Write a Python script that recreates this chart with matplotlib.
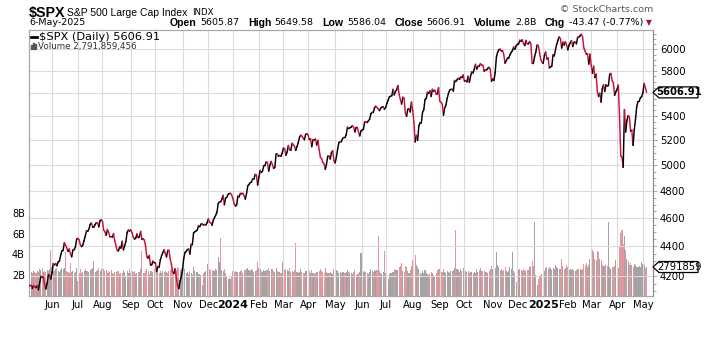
import numpy as np
import pandas as pd
import matplotlib
matplotlib.use('Agg')
import matplotlib.pyplot as plt
from matplotlib.collections import LineCollection
from matplotlib.patches import Polygon, Rectangle
from matplotlib.transforms import IdentityTransform
from matplotlib.ticker import NullFormatter

# market holidays inside the window (used only to build the trading-day index)
holidays = ['2023-05-29', '2023-06-19', '2023-07-04', '2023-09-04', '2023-11-23',
            '2023-12-25', '2024-01-01', '2024-01-15', '2024-02-19', '2024-03-29',
            '2024-05-27', '2024-06-19', '2024-07-04', '2024-09-02', '2024-11-28',
            '2024-12-25', '2025-01-01', '2025-01-09', '2025-01-20', '2025-02-17',
            '2025-04-18']

# $SPX daily closes, 5-May-2023 .. 6-May-2025
close = [
    4136.25, 4138.12, 4119.17, 4137.64, 4130.62, 4124.08, 4136.28, 4109.90, 4158.77, 4198.05, 4191.98, 4192.63, 4145.58, 4115.24, 4151.28, 4205.45, 4205.52, 4179.83,
    4221.02, 4282.37, 4273.79, 4283.85, 4267.52, 4293.93, 4298.86, 4338.93, 4369.01, 4372.59, 4425.84, 4409.59, 4388.71, 4365.69, 4381.89, 4348.33, 4328.82, 4378.41, 4376.86, 4396.44, 4450.38,
    4455.59, 4446.82, 4411.59, 4398.95, 4409.53, 4439.26, 4472.16, 4510.04, 4505.42, 4522.79, 4554.98, 4565.72, 4534.87, 4536.34, 4554.64, 4567.46, 4566.75, 4537.41, 4582.23, 4588.96,
    4576.73, 4513.39, 4501.89, 4478.03, 4518.44, 4499.38, 4467.71, 4468.83, 4464.05, 4489.72, 4437.86, 4404.33, 4370.36, 4369.71, 4399.77, 4387.55, 4436.01, 4376.31, 4405.71, 4433.31, 4497.63, 4514.87, 4507.66,
    4515.77, 4496.83, 4465.48, 4451.14, 4457.49, 4487.46, 4461.90, 4467.44, 4505.10, 4450.32, 4453.53, 4443.95, 4402.20, 4330.00, 4320.06, 4337.44, 4273.53, 4274.51, 4299.70, 4288.05,
    4288.39, 4229.45, 4263.75, 4258.19, 4308.50, 4335.66, 4358.24, 4376.95, 4349.61, 4327.78, 4373.63, 4373.20, 4314.60, 4278.00, 4224.16, 4217.04, 4247.68, 4186.77, 4137.23, 4117.37, 4166.82, 4193.80,
    4237.86, 4317.78, 4358.34, 4365.98, 4378.38, 4382.78, 4347.35, 4415.24, 4411.55, 4495.70, 4502.88, 4508.24, 4514.02, 4547.38, 4538.19, 4556.62, 4559.34, 4550.43, 4554.89, 4550.58, 4567.80,
    4594.63, 4569.78, 4567.18, 4549.34, 4585.59, 4604.37, 4622.44, 4643.70, 4707.09, 4719.55, 4719.19, 4740.56, 4768.37, 4698.35, 4746.75, 4754.63, 4774.75, 4781.58, 4783.35, 4769.83,
    4742.83, 4704.81, 4688.68, 4697.24, 4763.54, 4756.50, 4783.45, 4780.24, 4783.83, 4765.98, 4739.21, 4780.94, 4839.81, 4850.43, 4864.60, 4868.55, 4894.16, 4890.97, 4927.93, 4924.97, 4845.65,
    4906.19, 4958.61, 4942.81, 4954.23, 4995.06, 4997.91, 5026.61, 5021.84, 4953.17, 5000.62, 5029.73, 5005.57, 4975.51, 4981.80, 5087.03, 5088.80, 5069.53, 5078.18, 5069.76, 5096.27,
    5137.08, 5130.95, 5078.65, 5104.76, 5157.36, 5123.69, 5117.94, 5175.27, 5165.31, 5150.48, 5117.09, 5149.42, 5178.51, 5224.62, 5241.53, 5234.18, 5218.19, 5203.58, 5248.49, 5254.35,
    5243.77, 5205.81, 5211.49, 5147.21, 5204.34, 5202.39, 5209.91, 5160.64, 5199.06, 5123.41, 5061.82, 5051.41, 5022.21, 5011.12, 4967.23, 5010.60, 5070.55, 5071.63, 5048.42, 5099.96, 5116.17, 5035.69,
    5018.39, 5064.20, 5127.79, 5180.74, 5187.70, 5187.67, 5214.08, 5222.68, 5221.42, 5246.68, 5308.15, 5297.10, 5303.27, 5308.13, 5321.41, 5307.01, 5267.84, 5304.72, 5306.04, 5266.95, 5235.48, 5277.51,
    5283.40, 5291.34, 5354.03, 5352.96, 5346.99, 5360.79, 5375.32, 5421.03, 5433.74, 5431.60, 5473.23, 5487.03, 5473.17, 5464.62, 5447.87, 5469.30, 5477.90, 5482.87, 5460.48,
    5475.09, 5509.01, 5537.02, 5567.19, 5572.85, 5576.98, 5633.91, 5584.54, 5615.35, 5631.22, 5667.20, 5588.27, 5544.59, 5505.00, 5564.41, 5555.74, 5427.13, 5399.22, 5459.10, 5463.54, 5436.44, 5522.30,
    5446.68, 5346.56, 5186.33, 5240.03, 5199.50, 5319.31, 5344.16, 5344.39, 5434.43, 5455.21, 5543.22, 5554.25, 5608.25, 5597.12, 5620.85, 5570.64, 5634.61, 5616.84, 5625.80, 5592.18, 5591.96, 5648.40,
    5528.93, 5520.07, 5503.41, 5408.42, 5471.05, 5495.52, 5554.13, 5595.76, 5626.02, 5633.09, 5634.58, 5618.26, 5713.64, 5702.55, 5718.57, 5732.93, 5722.26, 5745.37, 5738.17, 5762.48,
    5708.75, 5709.54, 5699.94, 5751.07, 5695.94, 5751.13, 5792.04, 5780.05, 5815.03, 5859.85, 5815.26, 5842.47, 5841.47, 5864.67, 5853.98, 5851.20, 5797.42, 5809.86, 5808.12, 5823.52, 5832.92, 5813.67, 5705.45,
    5728.80, 5712.69, 5782.76, 5929.04, 5973.10, 5995.54, 6001.35, 5983.99, 5985.38, 5949.17, 5870.62, 5893.62, 5916.98, 5917.11, 5948.71, 5969.34, 5987.37, 6021.63, 5998.74, 6032.38,
    6047.15, 6049.88, 6086.49, 6075.11, 6090.27, 6052.85, 6034.91, 6084.19, 6051.25, 6051.09, 6074.08, 6050.61, 5872.16, 5867.08, 5930.85, 5974.07, 6040.04, 6037.59, 5970.84, 5906.94, 5881.63,
    5868.55, 5942.47, 5975.38, 5909.03, 5918.25, 5827.04, 5836.22, 5842.91, 5949.91, 5937.34, 5996.66, 6049.24, 6086.37, 6118.71, 6101.24, 6012.28, 6067.70, 6039.31, 6071.17, 6040.53,
    5994.57, 6037.88, 6061.48, 6083.57, 6025.99, 6066.44, 6068.50, 6051.97, 6115.07, 6114.63, 6129.58, 6144.15, 6117.52, 6013.13, 5983.25, 5955.25, 5956.06, 5861.57, 5954.50,
    5849.72, 5778.15, 5842.63, 5738.52, 5770.20, 5614.56, 5572.07, 5599.30, 5521.52, 5638.94, 5675.12, 5614.66, 5675.29, 5662.89, 5667.56, 5767.57, 5776.65, 5712.20, 5693.31, 5580.94, 5611.85,
    5633.07, 5670.97, 5396.52, 5074.08, 5062.25, 4982.77, 5456.90, 5268.05, 5363.36, 5405.97, 5396.63, 5275.70, 5282.70, 5158.20, 5287.76, 5375.86, 5484.77, 5525.21, 5528.75, 5560.83, 5569.06,
    5604.14, 5686.67, 5650.38, 5606.91,
]

# daily volume, billions of shares
volume = [
    2.6, 2.3, 2.2, 2.4, 2.3, 2.2, 2.4, 2.3, 2.6, 2.5, 2.7, 2.3, 2.4, 2.3, 2.5, 2.4, 2.6, 4.4,
    2.8, 2.5, 2.4, 2.6, 2.7, 2.4, 2.3, 2.5, 2.7, 2.6, 2.7, 4.2, 2.4, 2.3, 2.2, 3.2, 2.3, 2.4, 2.2, 2.3, 2.7,
    1.4, 2.2, 2.6, 2.2, 2.3, 2.4, 2.6, 2.4, 2.4, 2.3, 2.5, 2.6, 2.7, 3.4, 2.3, 2.4, 2.5, 2.7, 2.4, 2.6,
    2.4, 2.6, 2.4, 2.5, 2.2, 2.4, 2.3, 2.5, 2.2, 2.1, 2.3, 2.3, 2.4, 2.4, 2.1, 2.2, 2.2, 2.5, 2.3, 1.9, 2.4, 2.2, 2.6,
    2.2, 2.4, 2.3, 2.4, 2.1, 2.2, 2.3, 2.3, 2.6, 4.3, 2.2, 2.2, 2.4, 2.6, 2.4, 2.1, 2.4, 2.4, 2.3, 2.6,
    2.3, 2.5, 2.3, 2.2, 2.4, 2.2, 2.4, 2.3, 2.4, 2.3, 2.2, 2.4, 2.5, 2.6, 2.6, 2.4, 2.5, 2.5, 2.8, 2.7, 2.5, 2.7,
    2.7, 2.8, 2.6, 2.2, 2.3, 2.1, 2.4, 2.2, 2.0, 2.8, 2.4, 2.3, 2.3, 2.1, 2.1, 2.0, 1.1, 2.2, 2.3, 2.4, 3.1,
    3.5, 2.6, 2.5, 2.5, 2.4, 2.4, 2.6, 2.5, 3.8, 3.3, 5.6, 2.5, 2.4, 2.6, 2.2, 1.8, 1.6, 1.7, 1.6, 1.8,
    2.4, 2.3, 2.4, 2.3, 2.3, 2.3, 2.4, 2.5, 2.2, 2.5, 2.5, 2.6, 2.7, 2.5, 2.4, 2.6, 2.5, 2.3, 2.4, 2.5, 3.3,
    2.7, 2.6, 2.4, 2.3, 2.5, 2.4, 2.5, 2.5, 2.7, 2.4, 2.6, 2.6, 2.4, 2.3, 2.7, 2.4, 2.3, 2.3, 2.2, 3.3,
    2.6, 2.5, 2.6, 2.5, 2.4, 2.7, 2.3, 2.4, 2.3, 2.5, 5.1, 2.3, 2.2, 2.3, 2.6, 2.3, 2.2, 2.2, 2.4, 2.4,
    2.3, 2.4, 2.2, 2.5, 2.2, 2.1, 2.2, 2.3, 2.3, 2.4, 2.6, 2.4, 2.3, 2.2, 2.7, 2.3, 2.2, 2.2, 2.3, 2.2, 2.1, 2.6,
    2.6, 2.5, 2.4, 2.2, 2.3, 2.2, 2.3, 2.3, 2.2, 2.3, 2.5, 2.3, 2.2, 2.2, 2.1, 2.3, 2.5, 2.0, 2.1, 2.2, 2.3, 4.1,
    2.5, 2.3, 2.4, 2.3, 2.2, 2.1, 2.3, 2.6, 2.4, 2.3, 2.5, 2.4, 2.5, 5.8, 2.4, 2.2, 2.1, 2.3, 4.3,
    2.2, 2.1, 1.6, 2.1, 2.2, 2.2, 2.3, 2.6, 2.5, 2.5, 2.5, 2.8, 2.9, 3.2, 2.4, 2.3, 2.9, 2.8, 2.4, 2.2, 2.5, 2.9,
    3.5, 3.7, 3.9, 3.0, 2.8, 2.6, 2.2, 2.1, 2.4, 2.2, 2.5, 2.2, 2.1, 2.0, 2.1, 2.3, 2.2, 2.0, 1.9, 2.2, 2.5, 2.6,
    2.6, 2.3, 2.3, 2.6, 2.3, 2.2, 2.4, 2.3, 2.2, 2.4, 2.4, 2.5, 2.7, 6.4, 2.6, 2.5, 2.3, 2.6, 2.4, 2.7,
    2.6, 2.4, 2.3, 2.4, 2.2, 2.3, 2.3, 2.2, 2.3, 2.2, 2.6, 2.3, 2.5, 2.7, 2.4, 2.4, 2.4, 2.3, 2.3, 2.2, 2.4, 2.6, 2.9,
    2.6, 2.4, 2.7, 4.2, 3.0, 2.8, 2.5, 2.6, 2.4, 2.5, 2.8, 2.4, 2.3, 2.4, 2.8, 2.6, 4.2, 2.4, 2.2, 1.3,
    2.6, 2.5, 2.6, 2.5, 2.4, 2.6, 2.5, 2.4, 2.5, 2.5, 2.8, 2.9, 3.4, 2.9, 7.1, 2.0, 1.1, 1.6, 1.8, 2.0, 2.1,
    2.5, 2.4, 2.7, 2.8, 2.6, 2.8, 2.7, 2.5, 2.7, 2.6, 3.0, 2.8, 2.7, 2.6, 2.6, 3.6, 2.9, 2.6, 2.7, 3.0,
    2.8, 2.5, 2.6, 2.5, 2.6, 2.5, 2.4, 2.5, 2.6, 2.6, 2.6, 2.5, 2.6, 3.1, 3.0, 3.2, 2.8, 3.0, 3.6,
    3.8, 4.4, 4.2, 3.6, 3.5, 4.3, 4.2, 3.6, 3.5, 3.0, 2.9, 2.9, 3.0, 2.9, 7.1, 2.8, 2.6, 2.8, 2.8, 2.9, 3.5,
    2.9, 2.7, 4.8, 6.1, 6.4, 5.0, 5.8, 4.4, 3.6, 3.4, 3.0, 3.2, 3.0, 2.8, 3.1, 3.0, 2.8, 2.8, 2.9, 2.8, 3.3,
    3.1, 3.0, 2.7, 2.79,
]

price_ticks = [4200, 4400, 4600, 4800, 5000, 5200, 5400, 5600, 5800, 6000]
vol_ticks = [2, 4, 6, 8]

dates = pd.bdate_range('2023-05-05', '2025-05-06', freq='C', holidays=holidays)
assert len(dates) == len(close) == len(volume), (len(dates), len(close), len(volume))

close = np.array(close)
volume = np.array(volume)
n = len(close)
x = np.arange(n)
up = np.r_[True, np.diff(close) >= 0]

RED = '#d0103a'
W, H = 725, 337
fig = plt.figure(figsize=(W / 100, H / 100), dpi=100)
fig.patch.set_facecolor('white')

def fx(px):
    return px / W

def fy(py):
    return 1 - py / H

axv = fig.add_axes([fx(29), fy(296), fx(653) - fx(29), fy(30) - fy(296)])
ax = axv.twinx()

# volume bars
axv.bar(x, volume, width=0.85, color=np.where(up, '#a3a3a3', '#e0979d'), linewidth=0,
        antialiased=False)
axv.set_ylim(0, 25.6)
axv.set_yticks(vol_ticks)
axv.set_yticklabels([f'{v}B' for v in vol_ticks])
axv.tick_params(axis='y', length=0, pad=3, labelsize=7)

# month ticks
months = pd.Series(x, index=dates)
first = months.groupby([dates.year, dates.month]).first()
first = first[first.index.map(lambda k: (k[0], k[1]) >= (2023, 6))]
mpos = first.values
mlab = [str(y) if m == 1 else pd.Timestamp(year=y, month=m, day=1).strftime('%b') for y, m in first.index]
axv.set_xticks(mpos)
axv.set_xticklabels(mlab)
axv.tick_params(axis='x', length=0, pad=3, labelsize=7.2)
for t in axv.get_xticklabels():
    if t.get_text().isdigit():
        t.set_fontweight('bold')
        t.set_fontsize(8)
axv.set_xlim(-0.7, 506.2)

# price line, red on down days
ax.set_yscale('log')
ax.set_ylim(4070, 6185)
ax.set_xlim(-0.7, 506.2)
pts = np.column_stack([x, close])
segs = np.stack([pts[:-1], pts[1:]], axis=1)
lc = LineCollection(segs, colors=np.where(up[1:], 'black', RED), linewidths=1.05,
                    capstyle='round', joinstyle='round', zorder=3)
ax.add_collection(lc)

# 5600 sits under the last-value box, as in the original
ax.set_yticks(price_ticks)
ax.set_yticklabels(['' if v == 5600 else str(v) for v in price_ticks])
ax.set_yticks([v for v in range(4100, 6200, 50) if v not in price_ticks], minor=True)
ax.yaxis.set_minor_formatter(NullFormatter())
ax.tick_params(axis='y', which='major', length=3, width=0.6, color='#999999', pad=2, labelsize=7.3)
ax.tick_params(axis='y', which='minor', length=2, width=0.6, color='#999999')
ax.grid(axis='y', which='major', color='#dcdcdc', lw=0.8, zorder=1)
for p in mpos:
    ax.axvline(p, color='#dcdcdc', lw=0.8, zorder=1)

for a in (ax, axv):
    for s in a.spines.values():
        s.set_color('#a8a8a8')
        s.set_linewidth(0.8)
ax.spines['right'].set_color('#888888')

# header
fig.text(fx(29), fy(12.5), '$SPX', fontsize=10.3, fontweight='bold', family='Liberation Sans', va='center')
fig.text(fx(67), fy(12.5), 'S&P 500 Large Cap Index', fontsize=7.5, family='Liberation Sans', va='center')
fig.text(fx(192), fy(12.5), 'INDX', fontsize=6.2, family='DejaVu Sans', va='center')
fig.text(fx(29), fy(22.5), '6-May-2025', fontsize=6.8, family='DejaVu Sans', va='center')
fig.text(fx(653), fy(9), '© StockCharts.com', fontsize=6.8, color='#555555', ha='right', va='center')

header = [('Open', True), ('5605.87', False), ('High', True), ('5649.58', False),
          ('Low', True), ('5586.04', False), ('Close', True), ('5606.91', False),
          ('Volume', True), ('2.8B', False), ('Chg', True), ('-43.47 (-0.77%)', False)]
fig.canvas.draw()
rend = fig.canvas.get_renderer()
pieces = []
for txt, bold in header:
    if bold:
        t = fig.text(0, fy(22.5), txt, fontsize=7.6, fontweight='bold', family='Liberation Sans', va='center')
    else:
        t = fig.text(0, fy(22.5), txt, fontsize=6.8, family='DejaVu Sans', va='center')
    pieces.append((t, t.get_window_extent(rend).width, bold))
gap_in = 3.5
gap_out = (643 - 170 - sum(w for _, w, _ in pieces) - gap_in * 6) / 5
cur = 170
for t, w, bold in pieces:
    t.set_x(fx(cur))
    cur += w + (gap_in if bold else gap_out)
fig.text(fx(646), fy(22.5), '▼', fontsize=5.5, color='#a3102f', va='center')

# legend
fig.add_artist(plt.Line2D([fx(31), fx(37)], [fy(37), fy(37)], color='black', lw=2))
fig.text(fx(39), fy(37), '$SPX (Daily) 5606.91', fontsize=8.2, va='center')
for i, h in enumerate([4, 6, 5]):
    fig.add_artist(Rectangle((fx(31 + 2 * i), fy(49)), fx(1.4), h / H, color='#555555',
                             transform=fig.transFigure))
fig.text(fx(38), fy(46), 'Volume 2,791,859,456', fontsize=6.3, color='#333333', va='center')

# last-value boxes on the right axis
xs = ax.transAxes.transform((1, 0))[0]

def value_box(yd, label, bold):
    pts = [(xs, yd), (xs + 6, yd + 5.5), (xs + 45, yd + 5.5), (xs + 45, yd - 5.5), (xs + 6, yd - 5.5)]
    fig.add_artist(Polygon(pts, closed=True, fc='white', ec='black', lw=0.9,
                           transform=IdentityTransform(), zorder=5))
    fig.text((xs + 26) / W, yd / H, label, fontsize=7.2, ha='center', va='center',
             fontweight='bold' if bold else 'normal', zorder=6)

value_box(axv.transData.transform((0, volume[-1]))[1], '2791859', False)
value_box(ax.transData.transform((0, close[-1]))[1], f'{close[-1]:.2f}', True)

fig.savefig('out.png', dpi=100, facecolor='white')
